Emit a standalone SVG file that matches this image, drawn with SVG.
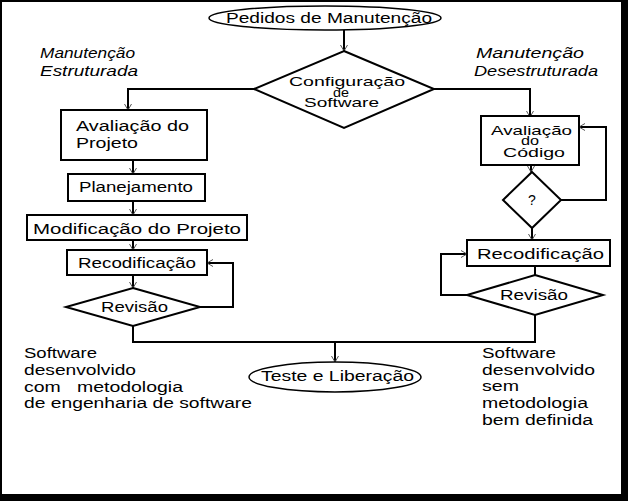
<svg xmlns="http://www.w3.org/2000/svg" width="628" height="501" viewBox="0 0 628 501">
<defs>
<marker id="arr" markerWidth="10" markerHeight="10" refX="9" refY="5" orient="auto" markerUnits="userSpaceOnUse">
<path d="M3,1.5 L9,5 L3,8.5" fill="none" stroke="#555" stroke-width="1"/>
</marker>
<style>
.n{fill:#fff;stroke:#000;stroke-width:2}
.e{fill:#fff;stroke:#000;stroke-width:1.5}
.c{fill:none;stroke:#000;stroke-width:2}
text{font-family:"Liberation Sans",Arial,sans-serif;font-size:14px;fill:#000}
.i{font-style:italic}
.s{font-size:13px}
</style>
</defs>
<rect x="0" y="0" width="628" height="501" fill="#fff"/>
<rect x="1" y="1" width="621" height="494" fill="none" stroke="#000" stroke-width="2"/>
<rect x="622" y="0" width="6" height="501" fill="#000"/>
<rect x="0" y="495" width="628" height="6" fill="#000"/>

<g id="connectors">
<path class="c" d="M344,30 V51" marker-end="url(#arr)"/>
<path class="c" d="M254,89 H128 V110" marker-end="url(#arr)"/>
<path class="c" d="M434,89 H530 V117" marker-end="url(#arr)"/>
<path class="c" d="M133,160 V174" marker-end="url(#arr)"/>
<path class="c" d="M133,201 V215" marker-end="url(#arr)"/>
<path class="c" d="M133,240 V250" marker-end="url(#arr)"/>
<path class="c" d="M133,275 V288" marker-end="url(#arr)"/>
<path class="c" d="M200,307 H233 V263 H207" marker-end="url(#arr)"/>
<path class="c" d="M133,326 V342 H535 V315"/>
<path class="c" d="M335,342 V362" marker-end="url(#arr)"/>
<path class="c" d="M531,165 V172" marker-end="url(#arr)"/>
<path class="c" d="M561,200 H606 V127 H579" marker-end="url(#arr)"/>
<path class="c" d="M532,228 V240" marker-end="url(#arr)"/>
<path class="c" d="M535,266 V275"/>
<path class="c" d="M467,295 H441 V254 H467" marker-end="url(#arr)"/>
</g>

<g id="pedidos">
<ellipse class="e" cx="325" cy="18" rx="116" ry="12"/>
<text x="226" y="23" textLength="206" lengthAdjust="spacingAndGlyphs">Pedidos de Manutenção</text>
</g>

<g id="configuracao">
<polygon class="n" points="344,51 434,89 344,128 254,89"/>
<text class="s" x="289" y="86" textLength="116" lengthAdjust="spacingAndGlyphs">Configuração</text>
<text class="s" x="333" y="97" textLength="16" lengthAdjust="spacingAndGlyphs">de</text>
<text class="s" x="304" y="107" textLength="75" lengthAdjust="spacingAndGlyphs">Software</text>
</g>

<g id="label-estruturada">
<text class="i" x="40" y="58" textLength="95" lengthAdjust="spacingAndGlyphs">Manutenção</text>
<text class="i" x="40" y="76" textLength="98" lengthAdjust="spacingAndGlyphs">Estruturada</text>
</g>
<g id="label-desestruturada">
<text class="i" x="476" y="58" textLength="108" lengthAdjust="spacingAndGlyphs">Manutenção</text>
<text class="i" x="474" y="76" textLength="124" lengthAdjust="spacingAndGlyphs">Desestruturada</text>
</g>

<g id="avaliacao-projeto">
<rect class="n" x="61" y="110" width="146" height="50"/>
<text x="76" y="131" textLength="113" lengthAdjust="spacingAndGlyphs">Avaliação do</text>
<text x="76" y="148" textLength="62" lengthAdjust="spacingAndGlyphs">Projeto</text>
</g>

<g id="planejamento">
<rect class="n" x="68" y="174" width="137" height="27"/>
<text x="79" y="192" textLength="114" lengthAdjust="spacingAndGlyphs">Planejamento</text>
</g>

<g id="modificacao">
<rect class="n" x="27" y="215" width="220" height="25"/>
<text x="33" y="234" textLength="208" lengthAdjust="spacingAndGlyphs">Modificação do Projeto</text>
</g>

<g id="recodificacao-esq">
<rect class="n" x="67" y="250" width="140" height="25"/>
<text x="78" y="268" textLength="118" lengthAdjust="spacingAndGlyphs">Recodificação</text>
</g>

<g id="revisao-esq">
<polygon class="n" points="133,288 200,307 133,326 66,307"/>
<text x="101" y="312" textLength="67" lengthAdjust="spacingAndGlyphs">Revisão</text>
</g>

<g id="avaliacao-codigo">
<rect class="n" x="481" y="116" width="98" height="49"/>
<text class="s" x="491" y="135" textLength="81" lengthAdjust="spacingAndGlyphs">Avaliação</text>
<text class="s" x="521" y="145" textLength="18" lengthAdjust="spacingAndGlyphs">do</text>
<text class="s" x="503" y="157" textLength="62" lengthAdjust="spacingAndGlyphs">Código</text>
</g>

<g id="decisao">
<polygon class="n" points="532,172 561,200 532,228 503,200"/>
<text x="532" y="205" text-anchor="middle">?</text>
</g>

<g id="recodificacao-dir">
<rect class="n" x="467" y="240" width="143" height="26"/>
<text x="477" y="259" textLength="127" lengthAdjust="spacingAndGlyphs">Recodificação</text>
</g>

<g id="revisao-dir">
<polygon class="n" points="535,275 603,295 535,315 467,295"/>
<text x="500" y="300" textLength="68" lengthAdjust="spacingAndGlyphs">Revisão</text>
</g>

<g id="teste">
<ellipse class="e" cx="335" cy="377" rx="86" ry="15"/>
<text x="261" y="381" textLength="153" lengthAdjust="spacingAndGlyphs">Teste e Liberação</text>
</g>

<g id="nota-esq">
<text x="24" y="358" textLength="73" lengthAdjust="spacingAndGlyphs">Software</text>
<text x="24" y="375" textLength="112" lengthAdjust="spacingAndGlyphs">desenvolvido</text>
<text x="24" y="392" textLength="159" lengthAdjust="spacingAndGlyphs" xml:space="preserve">com   metodologia</text>
<text x="24" y="408" textLength="228" lengthAdjust="spacingAndGlyphs">de engenharia de software</text>
</g>

<g id="nota-dir">
<text x="482" y="358" textLength="74" lengthAdjust="spacingAndGlyphs">Software</text>
<text x="482" y="375" textLength="113" lengthAdjust="spacingAndGlyphs">desenvolvido</text>
<text x="482" y="391" textLength="37" lengthAdjust="spacingAndGlyphs">sem</text>
<text x="482" y="408" textLength="106" lengthAdjust="spacingAndGlyphs">metodologia</text>
<text x="482" y="425" textLength="111" lengthAdjust="spacingAndGlyphs">bem definida</text>
</g>
</svg>
